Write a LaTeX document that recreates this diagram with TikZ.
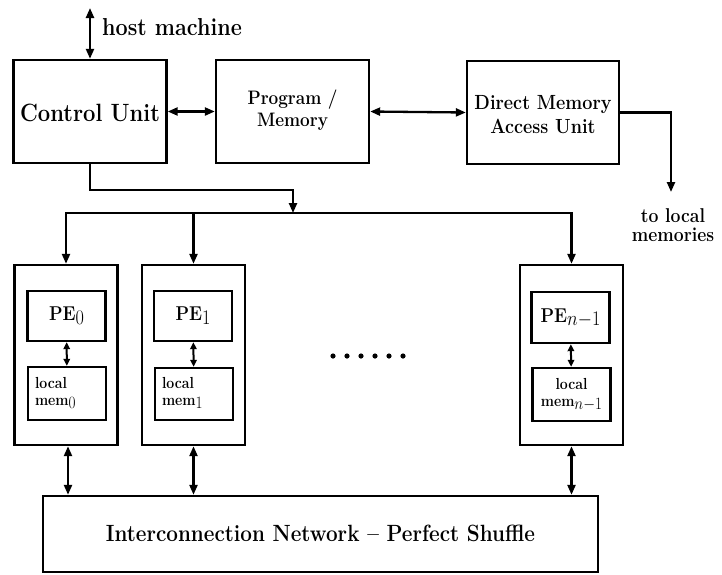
\documentclass[tikz,border=0pt]{standalone}
\usepackage{fontspec}
\usepackage{graphicx}
\usetikzlibrary{arrows.meta}
\newcommand\lowsub[1]{\raisebox{-0.4ex}{#1}}
% bold text, narrowed a little
\newcommand\fz[2]{\fontsize{#1pt}{#2pt}\selectfont\bfseries}
\newcommand\sq[1]{\scalebox{0.88}[1]{\begin{tabular}{@{}c@{}}#1\end{tabular}}}
\newcommand\sql[1]{\scalebox{0.88}[1]{\begin{tabular}{@{}l@{}}#1\end{tabular}}}
% lower a text block without changing its declared size
\newcommand\down[2]{\raisebox{-#1}[\height][\depth]{#2}}
\tikzset{
  box/.style={draw, line width=2.4pt, inner sep=0pt, align=center},
  unit/.style={box, minimum width=153pt, minimum height=103pt},
  pebox/.style={box, minimum width=103pt, minimum height=180pt},
  innerbox/.style={box, minimum width=78pt},
  lnk/.style={line width=2.3pt, >={Triangle[length=10pt,width=8pt]}},
  shortlnk/.style={line width=2pt, >={Triangle[length=7pt,width=6.5pt]}},
  lbl/.style={inner sep=0pt, align=center}
}
\begin{document}
\begin{tikzpicture}[x=1pt, y=-1pt]
\useasboundingbox (0,0) rectangle (722,574);

% top row of units
\node[unit, font=\fz{25}{29}] (cu) at (90,111.5) {\down{4pt}{\sq{Control Unit}}};
\node[unit, font=\fz{19.5}{22}] (pm) at (292.5,111.5) {\sq{Program /\\Memory}};
\node[unit, font=\fz{20.5}{24}, minimum width=152pt] (dma) at (543,112.5) {\down{4pt}{\sq{Direct Memory\\Access Unit}}};

% link to the host
\coordinate (host) at (90,8);
\node[lbl, anchor=west, font=\fz{24.5}{28}] (hostlbl) at (102,30) {\sq{host machine}};

% processing elements with their local memories
\node[pebox] (outer0) at (66,355) {};
\node[pebox] (outer1) at (193.5,355) {};
\node[pebox] (outerN) at (571.5,355) {};

\node[innerbox, minimum height=50pt, font=\fz{20}{24}] (pe0) at (66.5,316) {\sq{PE\lowsub{$0$}}};
\node[innerbox, minimum height=50pt, font=\fz{20}{24}] (pe1) at (193,316) {\sq{PE\lowsub{$1$}}};
\node[innerbox, minimum height=51pt, font=\fz{20}{24}] (peN) at (570.5,317.5) {\sq{PE\lowsub{$n{-}1$}}};

\node[innerbox, minimum height=53pt, text width=64pt, align=left, font=\fz{16}{17}] (loc0) at (67,393.5) {\sql{local\\mem\lowsub{$0$}}};
\node[innerbox, minimum height=52pt, text width=64pt, align=left, font=\fz{16}{17}] (loc1) at (194,394) {\sql{local\\mem\lowsub{$1$}}};
\node[innerbox, minimum height=53pt, font=\fz{16}{17}] (locN) at (571.5,394.5) {\sq{local\\mem\lowsub{$n{-}1$}}};

% interconnection network
\node[box, minimum width=555pt, minimum height=76pt, font=\fz{23.5}{26}] (net) at (320.5,534) {\down{2pt}{\sq{Interconnection Network -- Perfect Shuffle}}};

% ellipsis between the processing elements
\foreach \i in {0,...,5} \fill (333+14*\i,356) circle (2.6pt);

% output of the DMA unit
\coordinate (tolm) at (671,192);
\node[lbl, font=\fz{20}{19.5}] (tolmlbl) at (673,228) {\sq{to local\\memories}};

% connectors
\draw[lnk, <->] (host) -- (host |- cu.north);
\draw[lnk, <->] (cu.east) -- (pm.west);
\draw[lnk, <->] (pm.east) -- (dma.west);
\draw[lnk, ->] (dma.east) -| (tolm);

\coordinate (busdrop) at (293,213);
\draw[lnk, ->] (cu.south) -- ++(0,26) -| (busdrop);
\draw[lnk, <->, line join=miter] (outer0.north) |- (busdrop) -| (outerN.north);
\draw[lnk, ->] (outer1.north |- busdrop) -- (outer1.north);

\draw[shortlnk, <->] (pe0) -- (loc0);
\draw[shortlnk, <->] (pe1) -- (loc1);
\draw[shortlnk, <->] (peN) -- (locN);

\draw[lnk, <->] ([xshift=2pt]outer0.south) -- ([xshift=2pt]outer0.south |- net.north);
\draw[lnk, <->] (outer1.south) -- (outer1.south |- net.north);
\draw[lnk, <->] (outerN.south) -- (outerN.south |- net.north);
\end{tikzpicture}
\end{document}
